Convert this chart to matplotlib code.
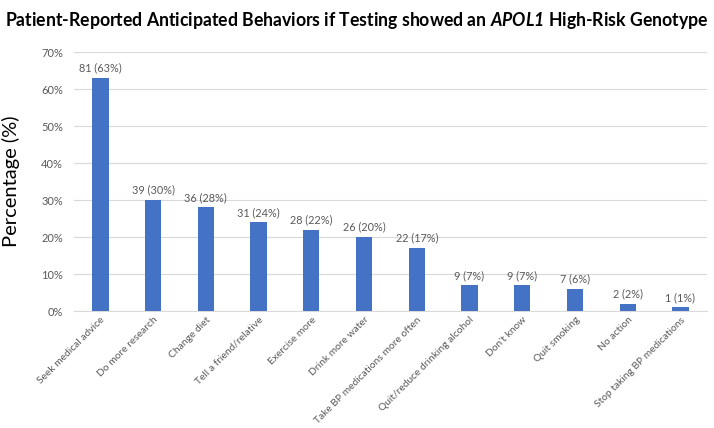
import matplotlib
matplotlib.use("Agg")
import matplotlib.pyplot as plt
from matplotlib.ticker import FuncFormatter

categories = ["Seek medical advice", "Do more research", "Change diet", "Tell a friend/relative",
              "Exercise more", "Drink more water", "Take BP medications more often",
              "Quit/reduce drinking alcohol", "Don't know", "Quit smoking", "No action",
              "Stop taking BP medications"]
percents = [63, 30, 28, 24, 22, 20, 17, 7, 7, 6, 2, 1]
counts = [81, 39, 36, 31, 28, 26, 22, 9, 9, 7, 2, 1]
yticks = [0, 10, 20, 30, 40, 50, 60, 70]

plt.rcParams['font.family'] = ['Lato', 'DejaVu Sans']
plt.rcParams['mathtext.fontset'] = 'custom'
plt.rcParams['mathtext.it'] = 'Lato:bold:italic'
plt.rcParams['mathtext.rm'] = 'Lato:bold:italic'
plt.rcParams['mathtext.bf'] = 'Lato:bold:italic'

fig = plt.figure(figsize=(7.14, 4.28), dpi=100)
ax = fig.add_axes([0.1036, 0.273, 0.8864, 0.6055])

gray = '#595959'
x = list(range(len(categories)))
bars = ax.bar(x, percents, width=0.31, color='#4472C4', zorder=3)
for xi, p, c in zip(x, percents, counts):
    ax.text(xi, p + 1.2, f"{c} ({p}%)", ha='center', va='bottom', fontsize=7.8, color=gray)

ax.set_xlim(-0.5, len(categories) - 0.5)
ax.set_ylim(0, 70)
ax.set_yticks(yticks)
ax.yaxis.set_major_formatter(FuncFormatter(lambda v, pos: f"{int(v)}%"))
ax.grid(axis='y', color='#D9D9D9', linewidth=0.8, zorder=0)
ax.set_xticks(x)
ax.set_xticklabels(categories, rotation=45, ha='right', rotation_mode='anchor', fontsize=7.4, color=gray)
ax.tick_params(axis='y', labelsize=8, labelcolor=gray, length=0, pad=8)
ax.tick_params(axis='x', length=0, pad=3)
for s in ['top', 'right', 'left']:
    ax.spines[s].set_visible(False)
ax.spines['bottom'].set_color('#D9D9D9')
ax.set_ylabel("Percentage (%)", fontsize=14.5, color='black')
ax.yaxis.set_label_coords(-0.085, 0.5)

fig.text(0.499, 0.953, r"Patient-Reported Anticipated Behaviors if Testing showed an $\mathit{APOL1}$ High-Risk Genotype",
         ha='center', va='center', fontsize=12.7, fontweight='bold')

fig.savefig("out.png", dpi=100)
